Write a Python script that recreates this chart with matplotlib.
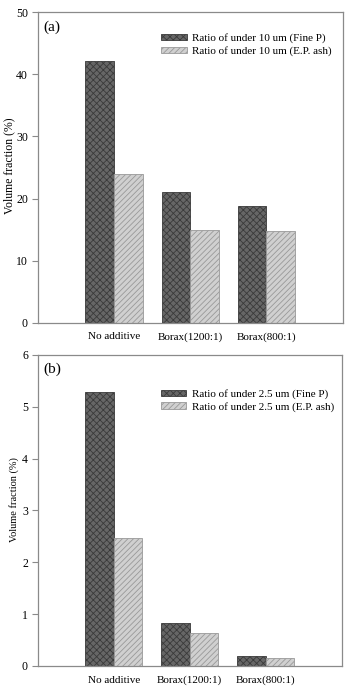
import matplotlib
matplotlib.use("Agg")
import matplotlib.pyplot as plt
import numpy as np

categories = ["No additive", "Borax(1200:1)", "Borax(800:1)"]
a_fine = [42.1, 21.05, 18.85]
a_ep = [24.0, 15.0, 14.8]
b_fine = [5.28, 0.82, 0.19]
b_ep = [2.46, 0.63, 0.16]
a_labels = ["Ratio of under 10 um (Fine P)", "Ratio of under 10 um (E.P. ash)"]
b_labels = ["Ratio of under 2.5 um (Fine P)", "Ratio of under 2.5 um (E.P. ash)"]

plt.rcParams['font.family'] = ['Liberation Serif', 'DejaVu Serif']
plt.rcParams['hatch.linewidth'] = 0.6

fig = plt.figure(figsize=(3.5, 6.86), dpi=100)
ax1 = fig.add_axes([0.1077, 0.5296, 0.8714, 0.4525])
ax2 = fig.add_axes([0.1077, 0.0292, 0.8686, 0.4534])

x = np.arange(1, len(categories) + 1)
w = 0.375
spine_c = '#8a8a8a'

def draw(ax, fine, ep, labels, ymax, step, tag, leg_y, lab_xy, lab_fs):
    ax.bar(x - w / 2, fine, w, facecolor='#666666', edgecolor='#3a3a3a',
           hatch='xxxxx', linewidth=0.6, label=labels[0])
    ax.bar(x + w / 2, ep, w, facecolor='#d0d0d0', edgecolor='#999999',
           hatch='//////', linewidth=0.6, label=labels[1])
    ax.set_xlim(0, 4)
    ax.set_ylim(0, ymax)
    ax.set_yticks(np.arange(0, ymax + step / 2, step))
    ax.set_xticks(x)
    ax.set_xticklabels(categories, fontsize=8)
    ax.tick_params(axis='x', length=0, pad=7)
    ax.tick_params(axis='y', direction='out', length=4, width=0.8,
                   color=spine_c, labelsize=8.5, pad=3)
    for s in ax.spines.values():
        s.set_color(spine_c)
        s.set_linewidth(0.9)
    ax.set_ylabel("Volume fraction (%)", fontsize=lab_fs)
    ax.yaxis.set_label_coords(*lab_xy)
    ax.text(0.02, 0.975, tag, transform=ax.transAxes, fontsize=11,
            va='top', ha='left')
    ax.legend(loc='upper left', bbox_to_anchor=(0.405, leg_y), frameon=False,
              fontsize=8, borderpad=0, borderaxespad=0, handlelength=2.3,
              handleheight=0.5, handletextpad=0.5, labelspacing=0.25)

draw(ax1, a_fine, a_ep, a_labels, 50, 10, "(a)", 0.932, (-0.075, 0.505), 8.5)
draw(ax2, b_fine, b_ep, b_labels, 6, 1, "(b)", 0.89, (-0.062, 0.534), 7.5)

fig.savefig("out.png", dpi=100)
